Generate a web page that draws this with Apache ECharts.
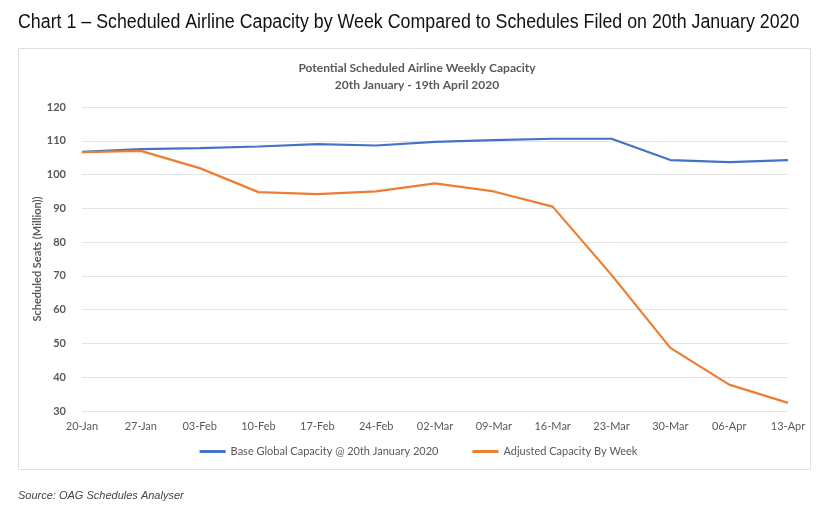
<!DOCTYPE html>
<html><head><meta charset="utf-8">
<script src="https://cdn.jsdelivr.net/npm/echarts@6/dist/echarts.min.js"></script>
<style>html,body{margin:0;padding:0;background:#fff}#c{width:837px;height:511px}</style>
</head><body><div id="c"></div>
<script>
const weeks = ['20-Jan','27-Jan','03-Feb','10-Feb','17-Feb','24-Feb','02-Mar','09-Mar','16-Mar','23-Mar','30-Mar','06-Apr','13-Apr'];
const baseCapacity = [106.7,107.5,107.8,108.3,109.0,108.6,109.7,110.2,110.6,110.6,104.3,103.7,104.3];
const adjustedCapacity = [106.6,107.0,101.9,94.8,94.2,95.0,97.4,95.0,90.5,70.3,48.7,37.8,32.4];
const yTicks = {min:30, max:120, interval:10};

const chart = echarts.init(document.getElementById('c'));
const lbl = '#595959';
chart.setOption({
  animation:false,
  title:[
    {text:'Potential Scheduled Airline Weekly Capacity\n20th January - 19th April 2020',
     left:412, textAlign:'center', top:55,
     textStyle:{fontFamily:'Lato', fontSize:12, fontWeight:'bold', color:lbl, lineHeight:17}},
    {text:'Source: OAG Schedules Analyser', left:13, top:485,
     textStyle:{fontFamily:'Liberation Sans', fontSize:11, fontStyle:'italic', fontWeight:'normal', color:'#444'}}
  ],
  graphic:[
    {type:'rect', shape:{x:18.5,y:48.5,width:792,height:421}, style:{fill:'none', stroke:'#e0e0e0', lineWidth:1}, silent:true, z:-1},
    {type:'text', x:18, y:12, scaleX:0.89, silent:true,
     style:{text:'Chart 1 – Scheduled Airline Capacity by Week Compared to Schedules Filed on 20th January 2020',
            font:'20px "Liberation Sans"', fill:'#111'}}
  ],
  grid:{left:82, right:49, top:107, bottom:100, containLabel:false},
  legend:{
    bottom:49, left:'center', itemWidth:26, itemHeight:3, icon:'rect', itemGap:34,
    textStyle:{fontFamily:'Lato', fontSize:11, color:lbl},
    data:['Base Global Capacity @ 20th January 2020','Adjusted Capacity By Week']
  },
  xAxis:{
    type:'category', data:weeks, boundaryGap:false,
    axisLine:{show:false}, axisTick:{show:false},
    axisLabel:{fontFamily:'Lato', fontSize:11, color:lbl, margin:10, interval:0},
    splitLine:{show:false}
  },
  yAxis:{
    type:'value', min:yTicks.min, max:yTicks.max, interval:yTicks.interval,
    name:'Scheduled Seats (Million))', nameLocation:'middle', nameGap:39, nameMoveOverlap:false,
    nameTextStyle:{fontFamily:'Lato', fontSize:11, fontWeight:'bold', color:lbl},
    axisLine:{show:false}, axisTick:{show:false},
    axisLabel:{fontFamily:'Lato', fontSize:11, fontWeight:'bold', color:lbl, margin:16},
    splitLine:{lineStyle:{color:'#e3e3e3', width:1}}
  },
  series:[
    {name:'Base Global Capacity @ 20th January 2020', type:'line', data:baseCapacity, symbol:'none',
     lineStyle:{color:'#4472c4', width:2.2}, itemStyle:{color:'#4472c4'}},
    {name:'Adjusted Capacity By Week', type:'line', data:adjustedCapacity, symbol:'none',
     lineStyle:{color:'#ed7d31', width:2.2}, itemStyle:{color:'#ed7d31'}}
  ]
});
</script></body></html>
